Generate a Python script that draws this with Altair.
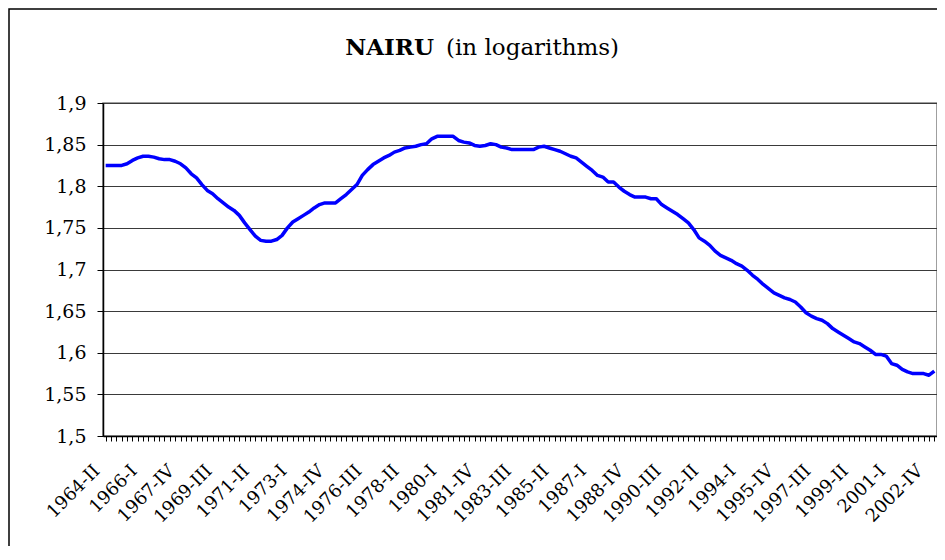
import altair as alt
import pandas as pd

# NAIRU (in logarithms), quarterly, 1964-II .. 2003-I (156 quarters)
nairu = [
    1.825, 1.825, 1.825, 1.825, 1.827, 1.831, 1.834, 1.836, 1.836, 1.835,
    1.833, 1.832, 1.832, 1.830, 1.827, 1.822, 1.815, 1.810, 1.802, 1.795,
    1.791, 1.785, 1.780, 1.775, 1.771, 1.765, 1.756, 1.748, 1.740, 1.735,
    1.734, 1.734, 1.736, 1.741, 1.750, 1.757, 1.761, 1.765, 1.769, 1.774,
    1.778, 1.780, 1.780, 1.780, 1.785, 1.790, 1.796, 1.802, 1.813, 1.820,
    1.826, 1.830, 1.834, 1.837, 1.841, 1.843, 1.846, 1.847, 1.848, 1.850,
    1.851, 1.857, 1.860, 1.860, 1.860, 1.860, 1.855, 1.853, 1.852, 1.849,
    1.848, 1.849, 1.851, 1.850, 1.847, 1.846, 1.844, 1.844, 1.844, 1.844,
    1.844, 1.847, 1.848, 1.846, 1.844, 1.842, 1.839, 1.836, 1.834, 1.829,
    1.824, 1.819, 1.813, 1.811, 1.805, 1.805, 1.799, 1.794, 1.790, 1.787,
    1.787, 1.787, 1.785, 1.785, 1.778, 1.774, 1.770, 1.766, 1.761, 1.756,
    1.748, 1.738, 1.734, 1.729, 1.722, 1.717, 1.714, 1.711, 1.707, 1.704,
    1.699, 1.693, 1.688, 1.682, 1.677, 1.672, 1.669, 1.666, 1.664, 1.661,
    1.655, 1.648, 1.644, 1.641, 1.639, 1.635, 1.629, 1.625, 1.621, 1.617,
    1.613, 1.611, 1.607, 1.603, 1.598, 1.598, 1.596, 1.587, 1.585, 1.580,
    1.577, 1.575, 1.575, 1.575, 1.573, 1.578,
]

roman = ["I", "II", "III", "IV"]
quarters = []
year, qi = 1964, 1
for _ in range(len(nairu)):
    quarters.append(f"{year}-{roman[qi]}")
    qi += 1
    if qi == 4:
        qi = 0
        year += 1

labeled = quarters[::7]
y_ticks = [1.5, 1.55, 1.6, 1.65, 1.7, 1.75, 1.8, 1.85, 1.9]

df = pd.DataFrame({"quarter": quarters, "nairu": nairu})

W, H = 834, 333
FONT = "DejaVu Serif"

label_str = "|" + "|".join(labeled) + "|"
x_label_expr = f"indexof('{label_str}', '|' + datum.value + '|') >= 0 ? datum.value : ''"

line = alt.Chart(df).mark_line(color="#0000FF", strokeWidth=3.5, strokeJoin="round").encode(
    x=alt.X(
        "quarter:O",
        sort=None,
        scale=alt.Scale(type="point", padding=0.5),
        axis=alt.Axis(
            title=None,
            labelExpr=x_label_expr,
            labelAngle=315,
            labelAlign="right",
            labelBaseline="middle",
            labelOffset=-9,
            labelPadding=27,
            labelFont=FONT,
            labelFontSize=18,
            labelColor="black",
            labelOverlap=False,
            tickColor="black",
            tickSize=5,
            domainColor="black",
            domainWidth=1.5,
            grid=False,
        ),
    ),
    y=alt.Y(
        "nairu:Q",
        scale=alt.Scale(domain=[1.5, 1.9], nice=False, zero=False),
        axis=alt.Axis(
            title=None,
            values=y_ticks,
            labelExpr="replace(format(datum.value, '.2~f'), '.', ',')",
            labelFont=FONT,
            labelFontSize=19,
            labelColor="black",
            labelPadding=11,
            tickColor="black",
            tickSize=6,
            domainColor="black",
            domainWidth=1.5,
            grid=True,
            gridColor="#3a3a3a",
            gridWidth=1,
        ),
    ),
)

title_bold = alt.Chart(pd.DataFrame({"t": ["NAIRU"]})).mark_text(
    font=FONT, fontSize=23, fontWeight="bold", align="right", baseline="alphabetic", color="black"
).encode(text="t:N", x=alt.value(331), y=alt.value(-48))

title_rest = alt.Chart(pd.DataFrame({"t": ["(in logarithms)"]})).mark_text(
    font=FONT, fontSize=23, align="left", baseline="alphabetic", color="black"
).encode(text="t:N", x=alt.value(343), y=alt.value(-48))

border = alt.Chart(pd.DataFrame({"b": [0]})).mark_rect(
    fill=None, stroke="black", strokeWidth=1.5, clip=False
).encode(x=alt.value(-94), x2=alt.value(W + 60), y=alt.value(-94), y2=alt.value(H + 200))

chart = (
    alt.layer(border, line, title_bold, title_rest)
    .properties(
        width=W,
        height=H,
        autosize=alt.AutoSizeParams(type="none"),
        padding={"left": 95, "top": 95, "right": 0, "bottom": 110},
        background="white",
    )
    .configure_view(stroke="#808080", strokeWidth=1.5)
)

chart.save("out.html", embed_options={"renderer": "svg", "actions": False})
